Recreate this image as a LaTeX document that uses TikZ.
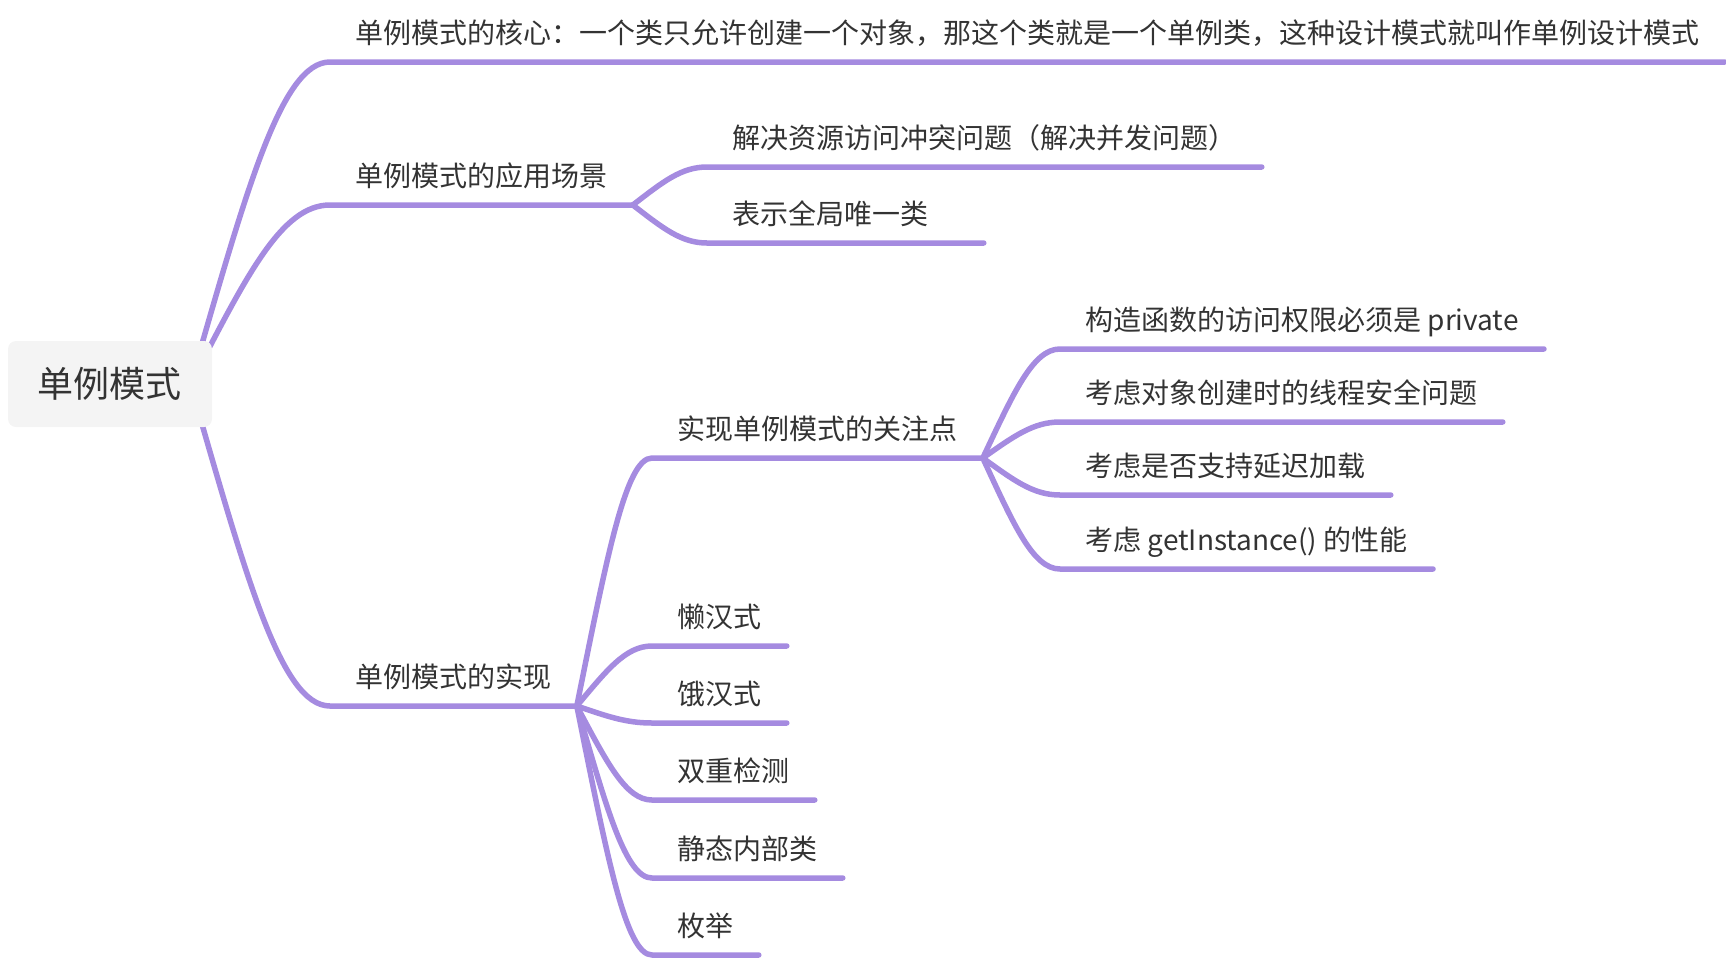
\documentclass[tikz,border=0pt]{standalone}
\usepackage{fontspec}
\setmainfont{Noto Sans CJK SC}
\usetikzlibrary{calc,backgrounds}
\definecolor{branchc}{RGB}{165,139,224}
\definecolor{inkc}{RGB}{51,51,51}
\definecolor{rootfill}{RGB}{244,244,244}

\begin{document}
\begin{tikzpicture}[x=0.5pt,y=-0.5pt,
                    topic/.style={anchor=south west,inner xsep=12.5pt,inner ysep=9.25pt,text depth=0pt,
                                  font=\fontsize{14}{17}\selectfont,text=inkc},
                    rootbox/.style={rounded corners=4pt,fill=rootfill,minimum width=102pt,minimum height=43pt,
                                    font=\fontsize{18}{22}\selectfont,text=inkc},
                    limb/.style={draw=branchc,line width=2.75pt,line cap=round,line join=round},
                    twig/.style={to path={.. controls ($(\tikztostart)!.5!(\tikztotarget)!.2!(\tikztostart |- \tikztotarget)$)
                                 and ($(\tikztotarget)!.35!(\tikztostart |- \tikztotarget)$) .. (\tikztotarget)}}]
  \useasboundingbox (0,0) rectangle (1726,960);
  \node[rootbox] (root) at (110,384) {单例模式};
  \coordinate (hub) at ([xshift=-11pt]root.east);
  % first level
  \node[topic] (core) at (330,62)  {单例模式的核心：一个类只允许创建一个对象，那这个类就是一个单例类，这种设计模式就叫作单例设计模式};
  \node[topic] (app)  at (330,205) {单例模式的应用场景};
  \node[topic] (impl) at (330,706) {单例模式的实现};
  % scenes
  \node[topic] (res)  at (707,167) {解决资源访问冲突问题（解决并发问题）};
  \node[topic,text width=113pt] (glob) at (707,243) {表示全局唯一类};
  % ways
  \node[topic] (focus)  at (652,458) {实现单例模式的关注点};
  \node[topic] (lazy)   at (652,646) {懒汉式};
  \node[topic] (hungry) at (652,723) {饿汉式};
  \node[topic] (dcl)    at (652,800) {双重检测};
  \node[topic] (inner)  at (652,878) {静态内部类};
  \node[topic] (enum)   at (652,955) {枚举};
  % concerns
  \node[topic] (ctor)     at (1060,349) {构造函数的访问权限必须是 private};
  \node[topic] (thread)   at (1060,422) {考虑对象创建时的线程安全问题};
  \node[topic] (lazyload) at (1060,495) {考虑是否支持延迟加载};
  \node[topic] (perf)     at (1060,569) {考虑 getInstance() 的性能};
  \begin{scope}[on background layer]
    \draw[limb] (hub) to[twig] (core.south west) -- (core.south east);
    \draw[limb] (hub) to[twig] (app.south west) -- (app.south east);
    \draw[limb] (hub) to[twig] (impl.south west) -- (impl.south east);
    \draw[limb] (app.south east) to[twig] (res.south west) -- (res.south east);
    \draw[limb] (app.south east) to[twig] (glob.south west) -- (glob.south east);
    \draw[limb] (impl.south east) to[twig] (focus.south west) -- (focus.south east);
    \draw[limb] (impl.south east) to[twig] (lazy.south west) -- (lazy.south east);
    \draw[limb] (impl.south east) to[twig] (hungry.south west) -- (hungry.south east);
    \draw[limb] (impl.south east) to[twig] (dcl.south west) -- (dcl.south east);
    \draw[limb] (impl.south east) to[twig] (inner.south west) -- (inner.south east);
    \draw[limb] (impl.south east) to[twig] (enum.south west) -- (enum.south east);
    \draw[limb] (focus.south east) to[twig] (ctor.south west) -- (ctor.south east);
    \draw[limb] (focus.south east) to[twig] (thread.south west) -- (thread.south east);
    \draw[limb] (focus.south east) to[twig] (lazyload.south west) -- (lazyload.south east);
    \draw[limb] (focus.south east) to[twig] (perf.south west) -- (perf.south east);
  \end{scope}
\end{tikzpicture}
\end{document}
